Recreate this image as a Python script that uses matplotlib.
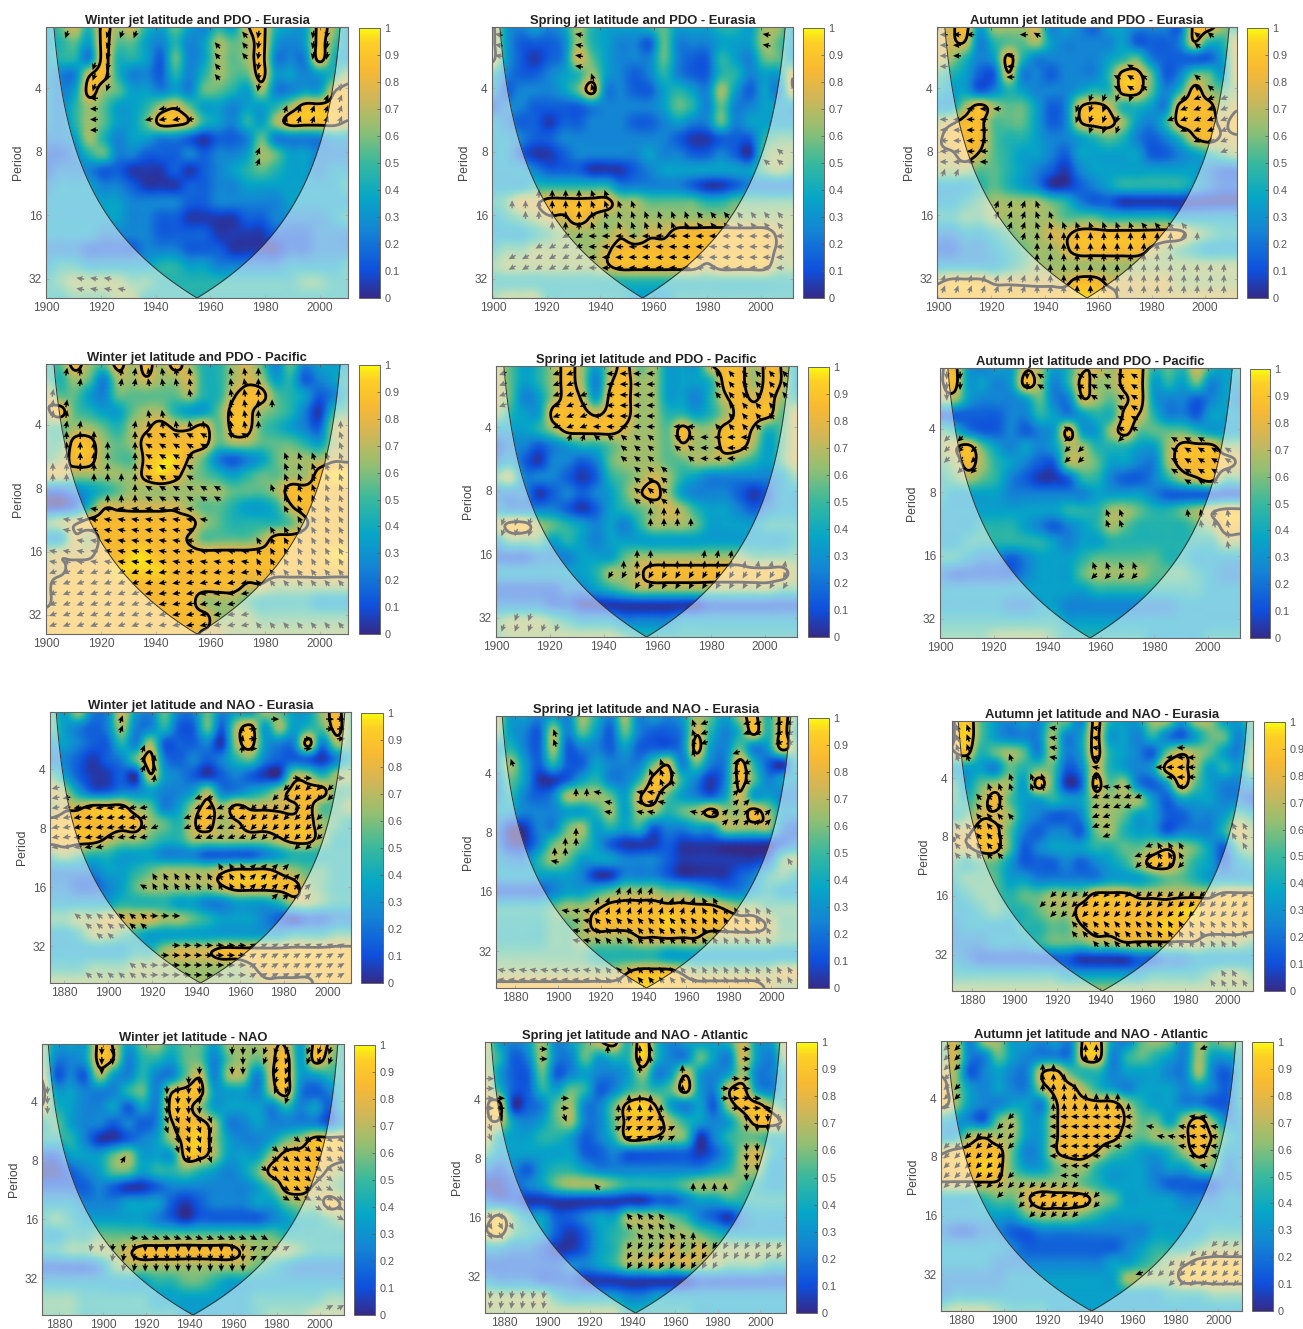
import numpy as np
import matplotlib
matplotlib.use("Agg")
import matplotlib.pyplot as plt
from matplotlib.colors import LinearSegmentedColormap
from matplotlib.cm import ScalarMappable
from matplotlib.colors import Normalize

plt.rcParams['font.family'] = ['Liberation Sans', 'DejaVu Sans']

# Coherence: one digit per cell, d means about d/10 + 0.05.
# Rows run from the shortest period (top) to the longest, columns from first to last year.
COH_1 = ["35748 67435 32437 84338 63","34538 55324 23656 83238 53","34428 44315 23656 82228 43",
 "32278 42214 24655 83323 46","32386 53323 25543 62233 78","32465 33467 53323 34688 88",
 "32465 33588 74324 36888 87","22364 23322 10112 52222 33","11245 22111 21223 65332 22",
 "12221 10001 01234 54332 33","23332 21000 11223 33333 34","33333 32222 11222 22333 33",
 "33333 32211 00001 12222 34","33332 22211 11000 01112 22","22211 11222 11100 00112 22",
 "34433 33344 33222 22333 34","45666 65544 44444 44455 44","44555 66444 44444 44444 44"]
COH_2 = ["83232 36433 34533 34436 63","83111 26432 21522 23336 53","83101 27532 22521 14325 53",
 "42112 34632 12421 14423 37","31222 35822 11343 26313 27","12211 11222 22354 25223 33",
 "32110 11222 11232 25233 33","33211 22222 22210 01114 55","33100 12222 23221 12105 66",
 "33321 11000 12333 33335 65","33344 44442 22221 00122 22","45778 88886 65555 44555 55",
 "34567 78766 66666 66666 66","33345 66667 67788 88888 76","45566 66678 88888 88888 76",
 "56666 66678 88888 78888 66","44444 44444 44444 44444 44","56664 44444 33344 44444 44"]
COH_3 = ["77836 66723 21332 22188 64","77724 55632 22231 11274 47","76423 84222 22345 21111 37",
 "54311 72212 22488 51255 37","43312 43222 34488 52486 56","33686 55312 78744 32888 67",
 "67885 55312 78863 24888 78","78885 44322 34542 12478 77","77875 43321 33333 11234 56",
 "66655 43210 23333 33332 11","33345 43200 12344 44432 11","33456 66654 21100 00000 00",
 "44556 66665 55444 44333 33","22334 56677 88888 88865 44","11223 45667 88888 76543 33",
 "33333 45666 66666 66666 66","78887 77777 88777 77666 66","88888 88888 99877 77777 77"]
COH_4 = ["45865 86868 64467 52523 33","54652 66766 74467 63412 34","75532 55555 64478 85431 24",
 "78543 35664 33588 65420 45","55665 46787 78588 54321 67","55886 56888 88566 55543 67",
 "56886 55899 75212 35666 77","77666 66898 65434 55668 99","11234 56666 66655 56888 88",
 "00147 77777 65543 34788 88","56788 88888 86544 44578 88","33768 88888 75555 68888 88",
 "67778 89988 88888 88888 99","77888 99998 88888 88888 88","78888 88888 88887 76666 66",
 "78888 88888 86665 44443 33","88888 88888 88666 55555 55","88888 88888 87766 66666 66"]
COH_5 = ["75346 86368 56333 78868 73","75346 86278 66333 48868 73","75236 87388 66332 47878 64",
 "64338 88788 66443 46888 57","33346 88887 66586 68874 57","12212 34456 66576 68863 57",
 "23102 21256 66556 66543 57","56222 10145 67643 22222 35","22201 21235 78632 22101 33",
 "32222 10134 56764 33212 33","68865 43232 46665 33334 44","35553 43233 33333 33333 34",
 "11122 23335 66666 66655 55","33333 33466 78888 88888 86","11111 22345 66666 66666 55",
 "22221 10000 00000 11111 11","56665 43332 22233 33333 33","56666 66665 44444 44444 44"]
COH_6 = ["78323 37634 77688 45474 34","78332 38624 86688 34352 33","66322 23522 76578 32212 32",
 "11111 22432 34487 42213 33","54211 21238 33685 55543 33","67853 23236 64443 36888 66",
 "56864 32116 65332 26888 87","45654 21001 44211 24678 55","43333 22222 23333 21111 11",
 "33333 33334 44665 44567 88","33344 43212 34654 44456 88","33444 44432 33444 44444 66",
 "44322 12333 45555 54433 33","21111 12333 56666 55543 22","33333 33333 34444 44443 33",
 "33333 22332 22222 22333 33","44444 44443 33333 33333 33","55556 66654 44444 33334 44"]
COH_7 = ["53622 73252 25233 65336 85","53212 62241 15168 36345 85","33211 42611 12068 32282 65",
 "22101 25821 21245 21110 24","53100 10732 10121 00664 66","76311 22322 36223 46888 55",
 "67788 86523 68687 77785 56","88888 88654 78678 88886 54","88887 66544 66666 67886 44",
 "56544 33322 21111 23444 44","22223 34566 66788 87655 44","22112 35666 66788 88865 44",
 "33333 44443 32233 34665 44","55667 77766 54333 21011 22","33466 54333 33333 33444 55",
 "33333 34467 77888 88888 88","44455 56666 66667 88888 88","66666 66666 66666 77778 88"]
COH_8 = ["73323 26426 23236 53684 85","63216 25315 21127 42484 84","34216 12213 11128 32523 85",
 "36314 11322 25725 22841 04","25300 13422 48842 02852 33","24212 66653 78532 13733 22",
 "33222 33463 66456 86686 33","20022 56343 41223 36666 21","20025 65310 00100 00000 12",
 "32246 53332 22100 00001 56","33333 32002 22100 00124 54","11112 33456 66554 32234 33",
 "44445 66788 88888 87665 55","44445 56888 88988 88887 55","44445 56666 77777 66666 55",
 "55555 55444 44333 33333 33","66666 66667 88876 66666 77","88888 88888 99888 88887 66"]
COH_9 = ["79532 32552 84336 63663 35","79532 22623 83324 21355 25","78456 52623 84321 57653 26",
 "33325 45512 74323 88634 36","53566 38501 85621 38532 23","54685 33433 66663 13332 21",
 "45776 32112 66533 11223 54","77885 21221 56433 12224 76","77885 12333 44556 76531 56",
 "54553 11121 23468 86431 34","45553 32222 23334 55433 33","34554 55666 88877 77778 88",
 "33454 45668 88888 89988 88","23333 44557 88888 98888 88","22233 34555 66777 77766 65",
 "32111 11110 00011 22333 33","44444 44433 33334 44456 65","66666 66666 66666 66666 66"]
COH_10 = ["63338 73564 55366 67738 74","62238 72443 55256 57838 64","71216 32422 57266 27833 44",
 "83322 24527 88333 26821 24","74322 31328 86333 32423 14","45322 12127 88622 32222 13",
 "44420 01236 89632 23568 88","11333 56333 88633 36888 88","00123 55344 54323 58888 76",
 "11112 10012 22222 35887 65","33322 23331 01222 33566 87","45433 33321 01111 12344 56",
 "33445 55555 55555 55444 44","44556 67888 88887 66654 44","11112 56666 66666 54322 22",
 "33333 33344 55433 33333 33","55544 44433 33333 44444 55","55544 44444 33333 45556 66"]
COH_11 = ["73236 23578 49423 33473 37","64126 22534 49422 53273 26","73115 12322 36237 32362 24",
 "74114 35412 45458 32783 24","78012 56225 89732 31688 64","77323 56225 88864 32368 87",
 "74334 43124 88765 02455 44","53333 33112 11111 01367 43","21213 44322 22222 23466 33",
 "00123 56665 44445 66654 33","21100 00000 00112 33444 44","68533 11233 66654 21023 33",
 "78543 10134 56666 54333 33","33221 00134 66676 76666 66","11111 12234 66767 66555 44",
 "32221 11000 00000 11111 11","66666 43333 22333 33333 33","66666 66666 44444 33333 33"]
COH_12 = ["57266 33232 88325 65265 65","57225 32222 88245 43263 34","76123 22785 44233 32262 14",
 "86323 22688 64323 33232 14","86322 33278 88864 33221 14","43215 63378 88875 53685 23",
 "33676 63378 88865 66787 43","78888 52378 87543 34686 33","88898 53356 64333 23355 23",
 "77777 66666 54333 21111 22","33345 57888 86533 33222 33","33333 35666 54333 33333 33",
 "21122 11222 22222 33334 44","33333 21111 11123 44456 66","33332 22222 22334 56788 88",
 "22222 33333 33366 66888 88","23333 33333 33333 34445 55","56665 44433 33333 33333 33"]

# Phase arrow directions in degrees, coarse: four period bands by early / middle / late years.
PHASE_1 = [[250,130,260],[180,190,70],[180,180,180],[170,150,150]]
PHASE_2 = [[170,110,170],[225,100,140],[90,110,130],[210,180,180]]
PHASE_3 = [[180,150,140],[180,250,200],[70,110,130],[70,90,85]]
PHASE_4 = [[80,100,90],[90,150,110],[170,170,120],[200,190,130]]
PHASE_5 = [[200,180,130],[70,140,180],[250,90,80],[250,240,240]]
PHASE_6 = [[270,150,120],[225,225,150],[225,110,100],[225,225,225]]
PHASE_7 = [[70,80,0],[190,200,225],[150,120,45],[140,0,30]]
PHASE_8 = [[110,110,200],[90,170,45],[170,70,120],[170,130,120]]
PHASE_9 = [[110,170,180],[130,200,120],[225,225,225],[60,130,120]]
PHASE_10 = [[270,270,250],[60,290,320],[0,340,330],[260,270,30]]
PHASE_11 = [[0,90,0],[290,30,270],[300,130,90],[260,240,240]]
PHASE_12 = [[225,90,200],[225,180,170],[225,225,225],[30,200,225]]

TITLES = ["Winter jet latitude and PDO - Eurasia","Spring jet latitude and PDO - Eurasia",
          "Autumn jet latitude and PDO - Eurasia","Winter jet latitude and PDO - Pacific",
          "Spring jet latitude and PDO - Pacific","Autumn jet latitude and PDO - Pacific",
          "Winter jet latitude and NAO - Eurasia","Spring jet latitude and NAO - Eurasia",
          "Autumn jet latitude and NAO - Eurasia","Winter jet latitude - NAO",
          "Spring jet latitude and NAO - Atlantic","Autumn jet latitude and NAO - Atlantic"]
YEAR_RANGES = [(1900,2010.2),(1899.6,2012),(1899.6,2012),(1900,2010.2),(1900,2012),(1900,2012),
               (1873.6,2010.6),(1871,2012),(1870.5,2012),(1872,2011),(1871,2012),(1870.5,2011)]
PERIOD_TICKS = [4, 8, 16, 32]
CBAR_TICKS = [0,0.1,0.2,0.3,0.4,0.5,0.6,0.7,0.8,0.9,1]
CBAR_LABELS = ["0","0.1","0.2","0.3","0.4","0.5","0.6","0.7","0.8","0.9","1"]

COHS = [COH_1,COH_2,COH_3,COH_4,COH_5,COH_6,COH_7,COH_8,COH_9,COH_10,COH_11,COH_12]
PHASES = [PHASE_1,PHASE_2,PHASE_3,PHASE_4,PHASE_5,PHASE_6,PHASE_7,PHASE_8,PHASE_9,PHASE_10,PHASE_11,PHASE_12]

# layout in pixels (left, top, right, bottom), colourbar (left, top, right, bottom)
W, H = 1303, 1329
BOXES = [(46,27,348,298),(492,27,793,298),(937,27,1237,298),
         (46,364,348,634),(496,366,797,637),(940,368,1240,638),
         (50,712,351,983),(496,716,797,988),(952,721,1253,991),
         (42,1044,344,1315),(485,1042,786,1313),(941,1041,1242,1311)]
CBARS = [(359,28,380,298),(803,28,824,298),(1247,28,1268,298),
         (359,365,380,634),(808,367,829,637),(1250,369,1270,638),
         (361,713,383,983),(808,718,829,988),(1264,722,1285,991),
         (354,1045,375,1315),(796,1042,817,1313),(1252,1042,1273,1311)]
YRANGES = [(1.04,5.30)]*6 + [(1.03,5.62)]*6

parula = LinearSegmentedColormap.from_list("parula", [
    (0.00,"#352a87"),(0.10,"#0f4fdc"),(0.25,"#1485d4"),(0.375,"#06a7c6"),(0.5,"#38b99e"),
    (0.625,"#92bf73"),(0.75,"#d4b656"),(0.85,"#f8b932"),(0.95,"#fdd026"),(1.0,"#f9fb0e")])

TXT = "#555555"
EDGE = "#666666"

def decode(rows):
    a = []
    for r in rows:
        s = r.replace(" ", "")
        s = (s + s[-1]*22)[:22]
        a.append([int(c)/10 + 0.05 for c in s])
    return np.array(a)

def catmull(arr, factor, axis):
    arr = np.moveaxis(arr, axis, 0)
    n = arr.shape[0]
    t = np.linspace(0, n-1, (n-1)*factor+1)
    i = np.clip(np.floor(t).astype(int), 0, n-2)
    u = (t-i)[(...,) + (None,)*(arr.ndim-1)]
    p0 = arr[np.clip(i-1,0,n-1)]; p1 = arr[i]; p2 = arr[i+1]; p3 = arr[np.clip(i+2,0,n-1)]
    out = 0.5*(2*p1 + (p2-p0)*u + (2*p0-5*p1+4*p2-p3)*u**2 + (3*p1-p0-3*p2+p3)*u**3)
    return np.moveaxis(out, 0, axis)

fig = plt.figure(figsize=(W/100, H/100), dpi=100, facecolor="white")
norm = Normalize(0, 1)

for k in range(12):
    l, t, r, b = BOXES[k]
    ax = fig.add_axes([l/W, 1-b/H, (r-l)/W, (b-t)/H])
    x0, x1 = YEAR_RANGES[k]
    ytop, ybot = YRANGES[k]
    field = np.clip(catmull(catmull(decode(COHS[k]), 12, 0), 12, 1), 0, 1)
    xs = np.linspace(x0, x1, field.shape[1])
    ys = np.linspace(ytop, ybot, field.shape[0])
    ax.pcolormesh(xs, ys, field, cmap=parula, norm=norm, shading="gouraud", rasterized=True)
    ax.contour(xs, ys, field, levels=[0.78], colors="black", linewidths=2.0)

    # phase arrows
    ph = np.array(PHASES[k], dtype=float)
    ax_x = np.arange(x0+2.5, x1, 5.0)
    ax_y = np.arange(ytop+0.12, ybot, 1/6)
    XX, YY = np.meshgrid(ax_x, ax_y)
    ix = np.clip(np.searchsorted(xs, XX), 0, len(xs)-1)
    iy = np.clip(np.searchsorted(ys, YY), 0, len(ys)-1)
    mask = field[iy, ix] >= 0.60
    ci = np.clip(((XX-x0)/(x1-x0)*3).astype(int), 0, 2)
    ri = np.clip(((YY-ytop)/(ybot-ytop)*4).astype(int), 0, 3)
    ang = np.deg2rad(ph[ri, ci])
    ax.quiver(XX[mask], YY[mask], np.cos(ang[mask]), np.sin(ang[mask]),
              angles="uv", units="dots", width=1.4, scale_units="dots", scale=0.125,
              headwidth=4.2, headlength=4.6, headaxislength=4.0, pivot="mid",
              color="black", zorder=3)

    # cone of influence
    xf = np.linspace(x0, x1, 800)
    c = 2**ybot / ((x1-x0)/2)
    dist = np.maximum(np.minimum(xf-x0, x1-xf), 1e-3)
    coi = np.clip(np.log2(c*dist), ytop, ybot)
    ax.fill_between(xf, coi, ybot, color="white", alpha=0.5, lw=0, zorder=4)
    ax.plot(xf, coi, color="#333333", lw=0.7, zorder=5)

    ax.set_xlim(x0, x1)
    ax.set_ylim(ybot, ytop)
    xt = [y for y in range(1880, 2001, 20) if x0 <= y <= x1]
    ax.set_xticks(xt)
    ax.set_xticklabels([str(y) for y in xt])
    ax.set_yticks(np.log2(PERIOD_TICKS))
    ax.set_yticklabels([str(p) for p in PERIOD_TICKS])
    ax.tick_params(direction="in", length=2.5, width=0.6, labelsize=8.6, colors=TXT, pad=3,
                   top=True, right=True)
    ax.set_ylabel("Period", fontsize=8.8, color="#444444", labelpad=3)
    for s in ax.spines.values():
        s.set_color(EDGE); s.set_linewidth(0.8); s.set_zorder(6)
    ax.set_title(TITLES[k], fontsize=9.4, fontweight="bold", color="#222222", pad=2.5)

    cl, ct, cr, cb = CBARS[k]
    cax = fig.add_axes([cl/W, 1-cb/H, (cr-cl)/W, (cb-ct)/H])
    cbar = fig.colorbar(ScalarMappable(norm=norm, cmap=parula), cax=cax)
    cbar.set_ticks(CBAR_TICKS)
    cbar.set_ticklabels(CBAR_LABELS)
    cbar.ax.tick_params(direction="in", length=2, width=0.5, labelsize=7.8, colors=TXT, pad=3)
    cbar.outline.set_edgecolor(EDGE)
    cbar.outline.set_linewidth(0.7)

fig.savefig("out.png", dpi=100, facecolor="white")
